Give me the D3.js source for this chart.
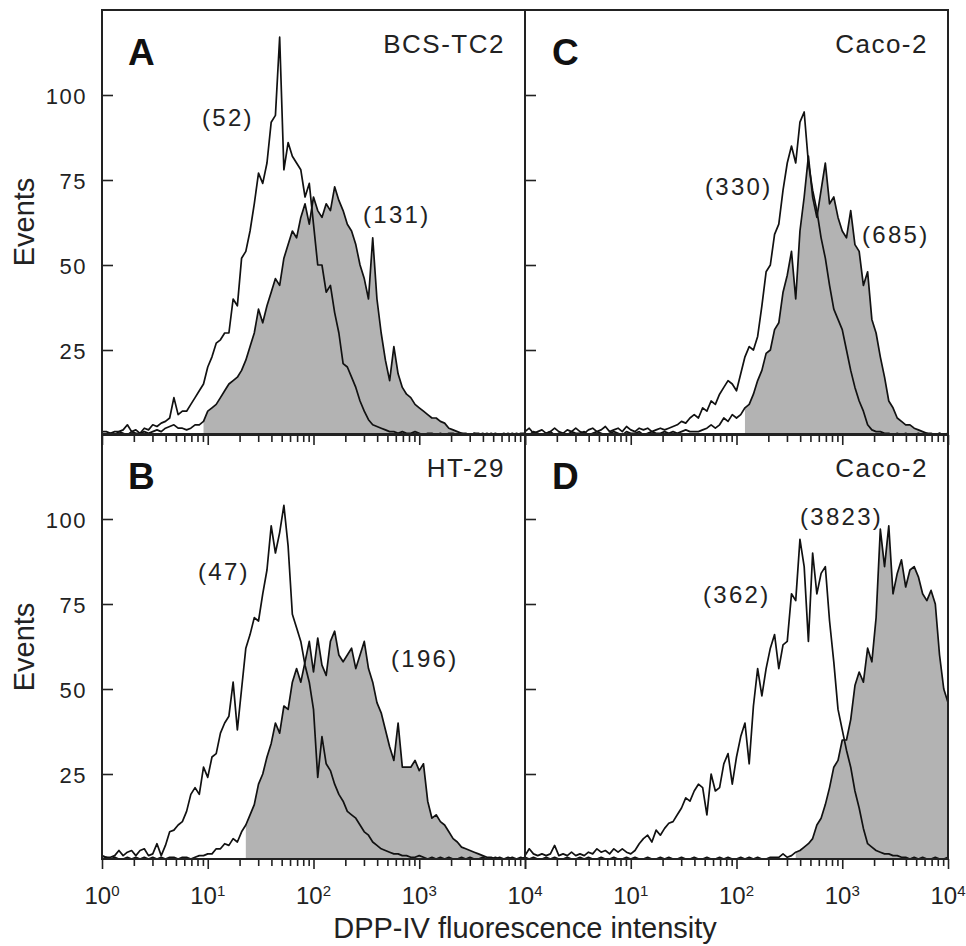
<!DOCTYPE html>
<html>
<head>
<meta charset="utf-8">
<title>DPP-IV fluorescence histograms</title>
<script src="https://d3js.org/d3.v7.min.js"></script>
<style>
  body { margin: 0; background: #fff; }
  svg { display: block; font-family: "Liberation Sans", Arial, Helvetica, sans-serif; }
  .frame { fill: none; stroke: #222; stroke-width: 2; }
  .axis .tick line { stroke: #222; stroke-width: 1.6; }
  .axis path { display: none; }
  .hist-line { fill: none; stroke: #111; stroke-width: 1.7; stroke-linejoin: round; }
  .hist-fill { fill: #b3b3b3; stroke: none; }
</style>
</head>
<body>
<svg width="966" height="946"></svg>
<script>
// histogram channels: 0.04 decade each, from 10^0 to 10^4 (101 channels)
const CH_STEP = 0.04;

// counts per channel
const openA = [
  1, 1, 0.5, 1, 1, 1.5, 3, 1, 1.5, 0.5,
  2, 1.5, 3, 2.5, 3.5, 4, 5, 11, 6, 7,
  7, 9, 11, 13, 15, 20, 23, 27, 28, 30,
  30, 40, 38, 52, 54, 60, 68, 77, 74, 80,
  92, 94, 117, 78, 86, 82, 80, 78, 70, 74,
  62, 50, 50, 42, 44, 36, 30, 21, 20, 17,
  14, 10, 7, 4.5, 3, 2.5, 2, 1.5, 1, 1,
  0.5, 1, 0.5, 0.5, 1, 0.5, 0, 0.5, 0.5, 0,
  0.5, 0, 0.5, 0.5, 0, 0.5, 0, 0, 0.5, 0,
  0.5, 0, 0.5, 0, 0, 0.5, 0, 0.5, 0, 0.5, 0.5
];
const filledA = [
  0.5, 0, 0.5, 0, 1, 0.5, 0, 1, 0.5, 0.5,
  1, 0.5, 1, 1.5, 1, 2, 2.5, 3, 2, 2,
  1.5, 2, 3, 3, 4, 7, 8, 9, 11, 13,
  15, 16, 17, 19, 22, 26, 30, 37, 33, 38,
  42, 46, 44, 52, 56, 60, 58, 64, 68, 62,
  70, 66, 64, 68, 66, 73, 69, 66, 62, 60,
  56, 50, 46, 40, 58, 40, 30, 22, 16, 26,
  18, 14, 12, 11, 9, 8, 7, 6, 5, 5,
  4, 3.5, 2, 1.5, 1, 0.5, 0.5, 0, 0.5, 0.5,
  0, 0.5, 0, 0.5, 0, 0, 0.5, 0, 0.5, 0, 0.5
];
const openB = [
  1, 0.5, 0.5, 1, 2.5, 1, 2, 2.5, 1, 2.5,
  3, 1, 1.5, 4.5, 1, 4, 8, 8.5, 10, 11,
  14, 19, 21, 19, 27, 24, 30, 31, 37, 40,
  42, 52, 38, 50, 62, 66, 71, 70, 78, 85,
  98, 90, 96, 104, 92, 72, 68, 64, 57, 52,
  44, 24, 36, 28, 26, 22, 19, 17, 14, 13,
  12, 10, 8, 7, 5, 4, 3, 2.5, 2, 1.5,
  1.5, 1, 1, 0.5, 0.5, 1, 0.5, 0, 0.5, 0,
  0.5, 0, 0.5, 0, 0, 0.5, 0, 0.5, 0, 0,
  0.5, 0, 0, 0.5, 0, 0, 0.5, 0, 0, 0.5, 0
];
const filledB = [
  0, 0.5, 0, 0.5, 0, 0, 0.5, 0, 0.5, 0,
  0.5, 0, 0.5, 0, 0.5, 0, 0.5, 0.5, 0, 0.5,
  0.5, 0, 0.5, 1, 1, 1.5, 1.5, 3, 3, 4.5,
  4, 6, 5, 8, 10, 13, 16, 22, 25, 30,
  34, 40, 37, 45, 44, 52, 56, 52, 58, 64,
  55, 65, 57, 54, 64, 67, 60, 58, 60, 62,
  56, 60, 64, 56, 52, 46, 43, 38, 33, 29,
  40, 27, 27, 27, 29, 26, 28, 17, 12, 13,
  11, 10, 8, 6, 5, 3.5, 3, 2.5, 2, 1.5,
  1, 0.5, 0.5, 0, 0.5, 0, 0, 0.5, 0, 0, 0.5
];
const openC = [
  1, 2, 0.5, 1, 1.5, 0.5, 1, 2, 1, 0.5,
  1.5, 1, 2, 1, 0.5, 1.5, 2, 1, 1.5, 2.5,
  1, 1.5, 2, 1, 2.5, 1.5, 1, 2, 1.5, 2,
  1, 1.5, 2, 1.5, 2, 2.5, 3, 4, 3.5, 5,
  6, 5, 8, 7, 10, 9, 12, 14, 16, 15,
  13, 18, 23, 26, 25, 29, 38, 48, 50, 59,
  62, 72, 80, 85, 80, 92, 95, 80, 72, 66,
  58, 52, 44, 37, 34, 31, 25, 19, 14, 10,
  7, 3, 1.5, 1, 1, 0.5, 0.5, 0, 0.5, 0,
  0.5, 0, 0, 0.5, 0, 0.5, 0, 0, 0.5, 0, 0.5
];
const filledC = [
  0.5, 0, 1, 0.5, 0, 0.5, 1, 0, 0.5, 0.5,
  0, 1, 0.5, 0.5, 1, 0, 0.5, 1, 0.5, 0,
  0.5, 1, 0.5, 0, 1, 0.5, 0.5, 1, 0, 0.5,
  1, 0.5, 0.5, 1, 0.5, 1, 0.5, 1, 1.5, 1,
  1, 1, 1.5, 2, 3, 2, 3, 5, 4, 6,
  5, 6, 8, 9, 12, 16, 19, 24, 25, 31,
  33, 42, 47, 54, 40, 60, 70, 82, 70, 64,
  72, 80, 68, 70, 64, 60, 58, 66, 56, 54,
  44, 48, 34, 30, 23, 17, 10, 8, 5, 4,
  3, 3, 2, 1.5, 1, 0.5, 0.5, 0, 0.5, 0, 0.5
];
const openD = [
  1, 3, 1.5, 1, 1.5, 1, 1.5, 4, 1, 1.5,
  1, 2, 1, 1.5, 1, 2, 1.5, 3, 2, 2.5,
  1.5, 3, 2, 3, 2, 1.5, 2.5, 4.5, 6, 7,
  5, 8.5, 7, 9, 10.5, 11, 13, 15, 18, 17,
  20, 22, 21, 13, 25, 20, 21, 28, 31, 22,
  30, 36, 40, 28, 45, 56, 48, 56, 62, 66,
  56, 63, 64, 78, 76, 94, 86, 64, 90, 78,
  84, 86, 70, 58, 44, 38, 32, 27, 20, 15,
  9, 4.5, 3.5, 2.5, 2, 1.5, 1.5, 1, 1, 0.5,
  0.5, 0, 0.5, 0, 0.5, 0, 0, 0.5, 0, 0, 0.5
];
const filledD = [
  0.5, 0, 0.5, 0, 0, 0.5, 0, 0.5, 0, 0,
  0.5, 0, 0, 0.5, 0, 0.5, 0, 0, 0.5, 0,
  0, 0.5, 0, 0, 0.5, 0, 0.5, 0, 0, 0.5,
  0, 0, 0.5, 0, 0.5, 0, 0, 0.5, 0, 0,
  0.5, 0, 0, 0.5, 0, 0, 0.5, 0, 0.5, 0,
  0, 0.5, 0, 0.5, 0, 0.5, 0, 0, 0.5, 0.5,
  0.5, 1.5, 0.5, 1, 2, 2.5, 3.5, 4.5, 6, 10,
  12, 16, 21, 27, 29, 35, 35, 41, 51, 55,
  52, 62, 58, 71, 97, 86, 98, 78, 84, 88,
  80, 85, 86, 83, 78, 76, 79, 75, 60, 50, 46
];

const panelLetters = ["A", "B", "C", "D"];
const cellLines = ["BCS-TC2", "HT-29", "Caco-2", "Caco-2"];
const openMeans = ["(52)", "(47)", "(330)", "(362)"];
const filledMeans = ["(131)", "(196)", "(685)", "(3823)"];
const yTickValues = [25, 50, 75, 100];
const decades = [0, 1, 2, 3, 4];

// layout
const svg = d3.select("svg");
const colX = [[102, 525], [525, 948]];
const rowY = [[435, 10], [859, 434]];
const panelDefs = [
  { open: openA, filled: filledA, gate: 0.96, col: 0, row: 0, openAt: [0.946, 91], filledAt: [2.468, 62.4] },
  { open: openB, filled: filledB, gate: 1.36, col: 0, row: 1, openAt: [0.908, 82], filledAt: [2.733, 56.5] },
  { open: openC, filled: filledC, gate: 2.06, col: 1, row: 0, openAt: [1.702, 70.6], filledAt: [3.187, 56.5] },
  { open: openD, filled: filledD, gate: 2.54, col: 1, row: 1, openAt: [1.683, 75.3], filledAt: [2.6, 98.2] }
];

const minorTicks = [];
for (let k = 0; k < 4; k++) for (let m = 2; m <= 9; m++) minorTicks.push(m * Math.pow(10, k));
const majorTicks = decades.map(k => Math.pow(10, k));

panelDefs.forEach((p, pi) => {
  const x = d3.scaleLog().domain([1, 1e4]).range(colX[p.col]);
  const y = d3.scaleLinear().domain([0, 125]).range(rowY[p.row]);
  const g = svg.append("g");

  const toPts = arr => arr.map((c, i) => ({ log: i * CH_STEP, count: c }));
  const openPts = toPts(p.open);
  const filledPts = toPts(p.filled);

  const line = d3.line()
    .x(d => x(Math.pow(10, d.log)))
    .y(d => y(d.count));
  const area = d3.area()
    .defined(d => d.log >= p.gate - 1e-9)
    .x(d => x(Math.pow(10, d.log)))
    .y0(y(0))
    .y1(d => y(d.count));

  g.append("path").datum(filledPts).attr("class", "hist-fill").attr("d", area);
  g.append("path").datum(filledPts).attr("class", "hist-line").attr("d", line);
  g.append("path").datum(openPts).attr("class", "hist-line").attr("d", line);

  // frame
  g.append("rect").attr("class", "frame")
    .attr("x", x.range()[0]).attr("y", y.range()[1])
    .attr("width", x.range()[1] - x.range()[0])
    .attr("height", y.range()[0] - y.range()[1]);

  // y ticks, pointing inward
  const yAxis = g.append("g").attr("class", "axis")
    .attr("transform", `translate(${x.range()[0]},0)`)
    .call(d3.axisLeft(y).tickValues(yTickValues).tickSize(-11).tickPadding(15)
      .tickFormat(p.col === 0 ? d3.format("d") : ""));
  yAxis.selectAll("text")
    .attr("font-size", 22).attr("fill", "#222")
    .style("letter-spacing", "1.5px")
    .attr("dy", "0.4em");

  // x ticks, pointing down
  g.append("g").attr("class", "axis")
    .attr("transform", `translate(0,${y(0)})`)
    .call(d3.axisBottom(x).tickValues(minorTicks).tickSize(7).tickFormat(""));
  g.append("g").attr("class", "axis")
    .attr("transform", `translate(0,${y(0)})`)
    .call(d3.axisBottom(x).tickValues(majorTicks).tickSize(10).tickFormat(""));

  // decade labels on the bottom row
  if (p.row === 1) {
    const labDec = p.col === 0 ? decades : decades.slice(1);
    labDec.forEach(k => {
      const t = g.append("text")
        .attr("x", x(Math.pow(10, k))).attr("y", 904)
        .attr("text-anchor", "middle").attr("fill", "#222")
        .attr("font-size", 24);
      t.append("tspan").text("10");
      t.append("tspan").attr("font-size", 15).attr("dy", -8).text(k);
    });
  }

  // panel letter and cell line
  g.append("text")
    .attr("x", x.range()[0] + (p.col === 0 ? 26 : 27))
    .attr("y", y.range()[1] + 55)
    .attr("font-size", 37).attr("font-weight", "bold").attr("fill", "#111")
    .text(panelLetters[pi]);
  g.append("text")
    .attr("x", x.range()[1] - 20)
    .attr("y", y.range()[1] + 43)
    .attr("text-anchor", "end")
    .attr("font-size", 26).attr("fill", "#222")
    .style("letter-spacing", "1.5px")
    .text(cellLines[pi]);

  // mean fluorescence annotations
  [[p.openAt, openMeans[pi]], [p.filledAt, filledMeans[pi]]].forEach(([pos, label]) => {
    g.append("text")
      .attr("x", x(Math.pow(10, pos[0])))
      .attr("y", y(pos[1]))
      .attr("font-size", 24).attr("fill", "#222")
      .style("letter-spacing", "2.3px")
      .text(label);
  });
});

// axis titles
[222, 647].forEach(cy => {
  svg.append("text")
    .attr("transform", `translate(34,${cy}) rotate(-90)`)
    .attr("text-anchor", "middle")
    .attr("font-size", 29).attr("fill", "#222")
    .text("Events");
});
svg.append("text")
  .attr("x", 525).attr("y", 938)
  .attr("text-anchor", "middle")
  .attr("font-size", 29).attr("fill", "#222")
  .text("DPP-IV fluorescence intensity");
</script>
</body>
</html>
